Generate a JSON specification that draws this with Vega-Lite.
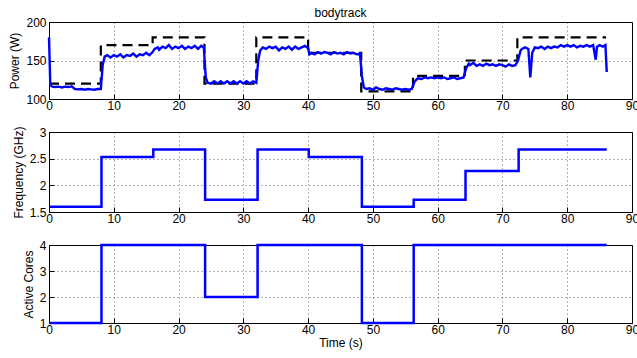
{
  "$schema": "https://vega.github.io/schema/vega-lite/v6.json",
  "padding": {"left": 8, "top": 6, "right": 4, "bottom": 4},
  "background": "white",
  "datasets": {
    "power": [
      {"t":0,"p":180},{"t":0.2,"p":118},{"t":0.5,"p":116},{"t":1,"p":115.5},{"t":1.5,"p":116},{"t":2,"p":115},{"t":2.5,"p":116},{"t":3,"p":115.5},{"t":3.5,"p":116.5},{"t":4,"p":113},{"t":4.5,"p":112.5},{"t":5,"p":113},{"t":5.5,"p":112},{"t":6,"p":113},{"t":6.5,"p":112.5},{"t":7,"p":112},{"t":7.5,"p":113},{"t":8,"p":113},
      {"t":8.3,"p":145},{"t":8.6,"p":155},{"t":9,"p":157},{"t":9.5,"p":154},{"t":10,"p":157},{"t":10.5,"p":155},{"t":11,"p":158},{"t":11.5,"p":154},{"t":12,"p":157},{"t":12.5,"p":156},{"t":13,"p":159},{"t":13.5,"p":155},{"t":14,"p":158},{"t":14.5,"p":157},{"t":15,"p":160},{"t":15.5,"p":157},{"t":16,"p":161},
      {"t":16.3,"p":165},{"t":16.8,"p":167},{"t":17,"p":164},{"t":17.5,"p":168},{"t":18,"p":166},{"t":18.5,"p":170},{"t":19,"p":165},{"t":19.5,"p":168},{"t":20,"p":166},{"t":20.5,"p":169},{"t":21,"p":165},{"t":21.5,"p":168},{"t":22,"p":166},{"t":22.5,"p":169},{"t":23,"p":165},{"t":23.5,"p":169},{"t":23.9,"p":167},
      {"t":24.2,"p":128},{"t":24.5,"p":121},{"t":25,"p":120},{"t":25.5,"p":123},{"t":26,"p":120},{"t":26.5,"p":123},{"t":27,"p":120},{"t":27.5,"p":123},{"t":28,"p":120},{"t":28.5,"p":123},{"t":29,"p":120},{"t":29.5,"p":123},{"t":30,"p":120},{"t":30.5,"p":123},{"t":31,"p":120},{"t":31.5,"p":123},{"t":32,"p":121},
      {"t":32.3,"p":150},{"t":32.6,"p":163},{"t":33,"p":167},{"t":33.5,"p":165},{"t":34,"p":168},{"t":34.5,"p":166},{"t":35,"p":168},{"t":35.5,"p":163},{"t":36,"p":167},{"t":36.5,"p":165},{"t":37,"p":168},{"t":37.5,"p":164},{"t":38,"p":168},{"t":38.5,"p":165},{"t":39,"p":167},{"t":39.5,"p":169},{"t":40,"p":166},
      {"t":40.2,"p":158},{"t":40.5,"p":160},{"t":41,"p":158},{"t":41.5,"p":161},{"t":42,"p":159},{"t":42.5,"p":161},{"t":43,"p":160},{"t":43.5,"p":158},{"t":44,"p":161},{"t":44.5,"p":159},{"t":45,"p":160},{"t":45.5,"p":158},{"t":46,"p":161},{"t":46.5,"p":159},{"t":47,"p":160},{"t":47.5,"p":158},{"t":48,"p":159},
      {"t":48.3,"p":130},{"t":48.6,"p":115},{"t":49,"p":113},{"t":49.5,"p":114},{"t":50,"p":112},{"t":50.5,"p":115},{"t":51,"p":113},{"t":51.5,"p":112},{"t":52,"p":114},{"t":52.5,"p":113},{"t":53,"p":112},{"t":53.5,"p":114},{"t":54,"p":113},{"t":54.5,"p":112},{"t":55,"p":113},{"t":55.5,"p":112},{"t":56,"p":113},
      {"t":56.4,"p":122},{"t":56.8,"p":126},{"t":57,"p":127},{"t":57.5,"p":126},{"t":58,"p":128},{"t":58.5,"p":127},{"t":59,"p":128},{"t":59.5,"p":127},{"t":60,"p":128},{"t":60.5,"p":127},{"t":61,"p":128},{"t":61.5,"p":126},{"t":62,"p":127},{"t":62.5,"p":128},{"t":63,"p":126},{"t":63.5,"p":127},{"t":64,"p":128},
      {"t":64.4,"p":140},{"t":64.8,"p":146},{"t":65,"p":144},{"t":65.5,"p":147},{"t":66,"p":143},{"t":66.5,"p":145},{"t":67,"p":143},{"t":67.5,"p":146},{"t":68,"p":144},{"t":68.5,"p":145},{"t":69,"p":143},{"t":69.5,"p":145},{"t":70,"p":144},{"t":70.5,"p":142},{"t":71,"p":145},{"t":71.5,"p":143},{"t":72,"p":144},
      {"t":72.4,"p":150},{"t":72.8,"p":163},{"t":73,"p":165},{"t":73.5,"p":167},{"t":74,"p":165},{"t":74.3,"p":128},{"t":74.6,"p":160},{"t":75,"p":167},{"t":75.5,"p":166},{"t":76,"p":168},{"t":76.5,"p":165},{"t":77,"p":168},{"t":77.5,"p":166},{"t":78,"p":168},{"t":78.5,"p":167},{"t":79,"p":170},{"t":79.5,"p":168},{"t":80,"p":170},{"t":80.5,"p":168},{"t":81,"p":170},{"t":81.5,"p":167},{"t":82,"p":169},{"t":82.5,"p":168},{"t":83,"p":170},{"t":83.5,"p":168},{"t":84,"p":170},{"t":84.4,"p":151},{"t":84.6,"p":168},{"t":85,"p":170},{"t":85.5,"p":168},{"t":85.9,"p":170},{"t":86.1,"p":135}
    ],
    "target": [
      {"t":0,"p":120},{"t":8,"p":170},{"t":16,"p":180},{"t":24,"p":120},{"t":32,"p":180},{"t":40,"p":160},{"t":48.2,"p":110},{"t":56.2,"p":130},{"t":64.2,"p":150},{"t":72.3,"p":180},{"t":86,"p":180}
    ],
    "freq": [
      {"t":0,"f":1.6},{"t":8.1,"f":2.53},{"t":16.1,"f":2.67},{"t":24.1,"f":1.73},{"t":32.2,"f":2.67},{"t":40.1,"f":2.53},{"t":48.3,"f":1.6},{"t":56.3,"f":1.73},{"t":64.3,"f":2.27},{"t":72.5,"f":2.67},{"t":86.1,"f":2.67}
    ],
    "cores": [
      {"t":0,"c":1},{"t":8.1,"c":4},{"t":24.1,"c":2},{"t":32.2,"c":4},{"t":48.3,"c":1},{"t":56.3,"c":4},{"t":86.1,"c":4}
    ]
  },
  "vconcat": [
    {
      "width": 583,
      "height": 77,
      "title": {"text": "bodytrack", "offset": -4},
      "encoding": {
        "x": {"field": "t", "type": "quantitative", "scale": {"domain": [0, 90]}, "axis": {"values": [0,10,20,30,40,50,60,70,80,90], "title": null}},
        "y": {"field": "p", "type": "quantitative", "scale": {"domain": [100, 200]}, "axis": {"values": [100,150,200], "title": "Power (W)"}}
      },
      "layer": [
        {
          "data": {"name": "target"},
          "mark": {"type": "line", "interpolate": "step-after", "color": "#000", "strokeWidth": 2.2, "strokeDash": [10, 6]}
        },
        {
          "data": {"name": "power"},
          "mark": {"type": "line", "color": "#0000ff", "strokeWidth": 2.4}
        }
      ]
    },
    {
      "width": 583,
      "height": 80,
      "data": {"name": "freq"},
      "mark": {"type": "line", "interpolate": "step-after", "color": "#0000ff", "strokeWidth": 2.5},
      "encoding": {
        "x": {"field": "t", "type": "quantitative", "scale": {"domain": [0, 90]}, "axis": {"values": [0,10,20,30,40,50,60,70,80,90], "title": null}},
        "y": {"field": "f", "type": "quantitative", "scale": {"domain": [1.5, 3]}, "axis": {"values": [1.5,2,2.5,3], "format": "~g", "title": "Frequency (GHz)"}}
      }
    },
    {
      "width": 583,
      "height": 78,
      "data": {"name": "cores"},
      "mark": {"type": "line", "interpolate": "step-after", "color": "#0000ff", "strokeWidth": 2.5},
      "encoding": {
        "x": {"field": "t", "type": "quantitative", "scale": {"domain": [0, 90]}, "axis": {"values": [0,10,20,30,40,50,60,70,80,90], "title": "Time (s)"}},
        "y": {"field": "c", "type": "quantitative", "scale": {"domain": [1, 4]}, "axis": {"values": [1,2,3,4], "title": "Active Cores"}}
      }
    }
  ],
  "spacing": 33,
  "bounds": "flush",
  "config": {
    "font": "Liberation Sans",
    "view": {"stroke": "#000", "strokeWidth": 1},
    "axis": {
      "domainColor": "#000", "tickColor": "#000", "labelColor": "#000", "titleColor": "#000",
      "labelFontSize": 12, "titleFontSize": 12, "titleFontWeight": "normal",
      "labelFlush": false, "labelOverlap": false,
      "gridColor": "#000", "gridDash": [1, 3], "gridOpacity": 0.6,
      "tickSize": -5, "labelPadding": 8, "titlePadding": 4
    },
    "axisX": {"labelPadding": 6, "titlePadding": 2},
    "title": {"fontSize": 12, "fontWeight": "normal", "color": "#000"}
  }
}
